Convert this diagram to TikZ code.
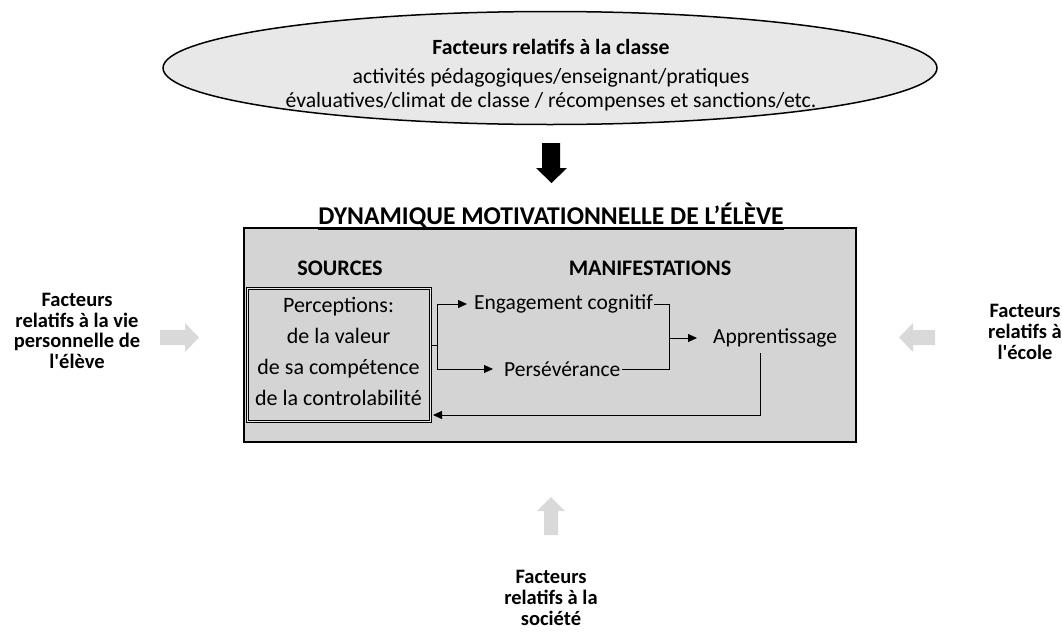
\documentclass[tikz,border=0pt]{standalone}
\usepackage{fontspec}
\setmainfont{Carlito}
\usetikzlibrary{shapes.geometric,arrows.meta}
\definecolor{ellgray}{HTML}{E8E8E8}
\definecolor{boxgray}{HTML}{D4D4D4}
\definecolor{arrgray}{HTML}{D9D9D9}
\tikzset{
  txt/.style={inner sep=1pt, font=\fontsize{21.5}{24}\selectfont},
  side/.style={align=center, font=\bfseries\fontsize{20.5}{20.7}\selectfont},
  head/.style={font=\bfseries\fontsize{22.2}{24}\selectfont},
  conn/.style={line width=0.8pt},
  tip/.style={-{Triangle[length=9pt,width=8pt]}},
  blockarrow/.style={fill=arrgray, draw=none},
}
\begin{document}
\begin{tikzpicture}[x=1pt,y=-1pt]
\useasboundingbox (0,0) rectangle (1062,632);
% top ellipse
\node[ellipse, draw, line width=1.5pt, fill=ellgray, minimum width=774pt, minimum height=113pt] (classe) at (550,68) {};
\node[font=\bfseries\fontsize{21.7}{24}\selectfont] (classeT) at (551,47) {Facteurs relatifs à la classe};
\node[align=center, font=\fontsize{21.7}{24}\selectfont] (classeB) at (551,90) {activités pédagogiques/enseignant/pratiques\\évaluatives/climat de classe / récompenses et sanctions/etc.};
% black arrow
\fill (542,143) -- (560,143) -- (560,168) -- (567,168) -- (551.5,183) -- (536,168) -- (542,168) -- cycle;
% main box
\node[draw, line width=2pt, fill=boxgray, anchor=north west, minimum width=612pt, minimum height=214pt] (main) at (243,227) {};
% title
\node[font=\bfseries\fontsize{25.6}{28}\selectfont, inner sep=0pt] (titre) at (551,216) {\underline{DYNAMIQUE MOTIVATIONNELLE DE L’ÉLÈVE}};
\node[head] (sources) at (340,268) {SOURCES};
\node[head] (manif) at (650,268) {MANIFESTATIONS};
% sources box
\node[draw, line width=1pt, double=ellgray, double distance=1pt, anchor=north west, minimum width=183pt, minimum height=133pt] (src) at (247,288) {};
\node[align=center, font=\fontsize{22}{31}\selectfont] (srcT) at (338.5,351) {Perceptions:\\de la valeur\\de sa compétence\\de la controlabilité};
% manifestations
\node[txt, anchor=west] (eng) at (473,304) {Engagement cognitif};
\node[txt, anchor=west] (pers) at (503,369) {Persévérance};
\node[txt, anchor=west] (app) at (712,338) {Apprentissage};
\coordinate (split) at (437,345);
\coordinate (merge) at (669,338);
\coordinate (fb) at (760,415);
\draw[conn] (src.east |- split) -- (split);
\draw[conn, tip, shorten >=6pt] (split) |- (eng.west);
\draw[conn, tip, shorten >=10pt] (split) |- (pers.west);
\draw[conn] (eng.east) -| (merge);
\draw[conn] (pers.east) -| (merge);
\draw[conn, tip, shorten >=15pt] (merge) -- (app.west);
\draw[conn, tip, shorten >=2pt] (app.south -| fb) ++(0,5) -- (fb) -- (src.east |- fb);
% side factors
\node[side] (vie) at (77,331) {Facteurs\\relatifs à la vie\\personnelle de\\l\textquotesingle élève};
\node[side] (ecole) at (1025,332) {Facteurs\\relatifs à\\l\textquotesingle école};
\node[side] (soc) at (551,598) {Facteurs\\relatifs à la\\société};
% gray block arrows
\fill[blockarrow] (160,330) -- (185,330) -- (185,323) -- (199,337.5) -- (185,352) -- (185,345) -- (160,345) -- cycle;
\fill[blockarrow] (935,330) -- (913,330) -- (913,323) -- (899,337.5) -- (913,352) -- (913,345) -- (935,345) -- cycle;
\fill[blockarrow] (544,535) -- (544,511) -- (537,511) -- (551,497) -- (565,511) -- (558,511) -- (558,535) -- cycle;
\end{tikzpicture}
\end{document}
